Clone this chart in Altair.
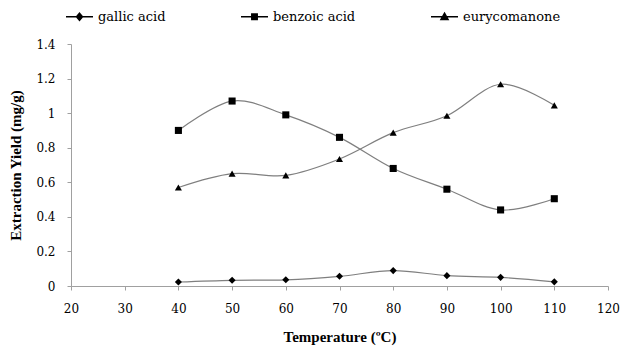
import altair as alt
import pandas as pd

temps = [40, 50, 60, 70, 80, 90, 100, 110]
gallic = [0.023, 0.033, 0.036, 0.056, 0.089, 0.06, 0.05, 0.024]
benzoic = [0.90, 1.07, 0.99, 0.86, 0.68, 0.56, 0.44, 0.505]
eury = [0.57, 0.65, 0.64, 0.735, 0.887, 0.985, 1.167, 1.045]
series_names = ["gallic acid", "benzoic acid", "eurycomanone"]
y_ticks = [0, 0.2, 0.4, 0.6, 0.8, 1.0, 1.2, 1.4]
x_ticks = [20, 30, 40, 50, 60, 70, 80, 90, 100, 110, 120]

rows = []
for name, vals in zip(series_names, [gallic, benzoic, eury]):
    for t, v in zip(temps, vals):
        rows.append({"series": name, "temp": t, "value": v})
df = pd.DataFrame(rows)

FONT = "Liberation Serif"
FONT_REG = "DejaVu Serif"
marker_shapes = ["diamond", "square", "triangle-up"]
legend_paths = [
    "M-1,0H1M0,-0.26L0.22,0L0,0.26L-0.22,0Z",
    "M-1,0H1M-0.2,-0.2H0.2V0.2H-0.2Z",
    "M-1,0H1M0,-0.26L0.26,0.2L-0.26,0.2Z",
]

x_enc = alt.X("temp:Q", title="Temperature (ºC)",
              scale=alt.Scale(domain=[20, 120], nice=False),
              axis=alt.Axis(values=x_ticks, grid=False, labelOverlap=False, labelFlush=False,
                            labelFont=FONT_REG, titleFont=FONT, labelFontSize=12, titleFontSize=15,
                            titleFontWeight="bold", titlePadding=15, labelPadding=13))
y_enc = alt.Y("value:Q", title="Extraction Yield (mg/g)",
              scale=alt.Scale(domain=[0, 1.4], nice=False),
              axis=alt.Axis(values=y_ticks, format=".1~f", grid=False, labelOverlap=False,
                            labelFlush=False, labelFont=FONT_REG, titleFont=FONT,
                            labelFontSize=12, titleFontSize=15, titleFontWeight="bold",
                            labelPadding=12, titlePadding=12))

base = alt.Chart(df)

lines = base.mark_line(interpolate="cardinal", color="#7f7f7f", strokeWidth=1.2).encode(
    x=x_enc, y=y_enc, detail="series:N"
)

points = base.mark_point(filled=True, color="black", opacity=1, size=50).encode(
    x=x_enc, y=y_enc,
    shape=alt.Shape("series:N", scale=alt.Scale(domain=series_names, range=marker_shapes), legend=None),
)

legend_layer = base.transform_filter(alt.datum.temp < 0).mark_point(
    filled=True, fill="black", stroke="black", strokeWidth=1, opacity=1
).encode(
    x=x_enc, y=y_enc,
    shape=alt.Shape("series:N", scale=alt.Scale(domain=series_names, range=legend_paths),
                    legend=alt.Legend(title=None, orient="none", legendX=-6, legendY=-42,
                                      direction="horizontal", columnPadding=72,
                                      symbolSize=729, labelFont=FONT_REG, labelFontSize=13,
                                      labelOffset=4, labelColor="black")),
)

chart = alt.layer(lines, points, legend_layer).resolve_scale(shape="independent").properties(
    width=537, height=242,
    padding={"left": 71, "top": 44, "right": 20, "bottom": 61},
    autosize=alt.AutoSizeParams(type="none"),
    background="white",
).configure_view(stroke=None).configure_axis(
    labelFont=FONT_REG, titleFont=FONT,
    labelColor="black", titleColor="black", domainColor="#a0a0a0", tickColor="#a0a0a0",
    tickSize=4,
).configure_legend(labelFont=FONT_REG)

chart.save("out.html", embed_options={"renderer": "svg", "actions": False})
